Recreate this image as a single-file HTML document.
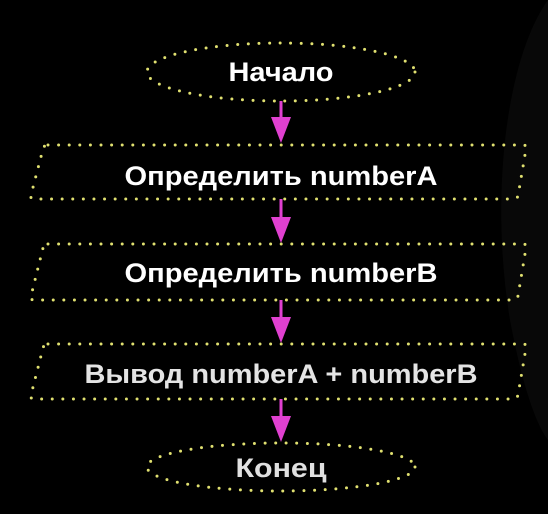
<!DOCTYPE html>
<html><head><meta charset="utf-8"><style>
html,body{margin:0;padding:0;background:#000;}
svg{display:block;}
text{font-family:"Liberation Sans",sans-serif;font-weight:bold;font-size:27px;text-anchor:middle;}
</style></head><body>
<svg width="548" height="514" viewBox="0 0 548 514" xmlns="http://www.w3.org/2000/svg">
<rect width="548" height="514" fill="#000"/>
<path d="M548 0 C505 60 490 200 510 320 C525 400 540 430 548 440 Z" fill="#080808"/>
<g fill="none" stroke="#e0e070" stroke-width="3" stroke-linecap="round" stroke-dasharray="0 10.6">
<ellipse cx="281" cy="72" rx="134" ry="29"/>
<path d="M48 145 L523 145 Q527 145 526 149 L518 196 Q517 199 513 199 L34 199 Q30 199 31 195 L43 149 Q44 145 48 145 Z"/>
<path d="M48 244 L523 244 Q527 244 526 248 L518 296 Q517 300 513 300 L34 300 Q30 300 31 296 L43 248 Q44 244 48 244 Z"/>
<path d="M48 344 L523 344 Q527 344 526 348 L518 395 Q517 399 513 399 L34 399 Q30 399 31 395 L43 348 Q44 344 48 344 Z"/>
<ellipse cx="281" cy="467" rx="134" ry="24"/>
</g>
<g fill="#e040d0" stroke="none">
<rect x="279.5" y="101" width="3" height="18"/><polygon points="271,117 291,117 281,143"/>
<rect x="279.5" y="199" width="3" height="20"/><polygon points="271,217 291,217 281,243"/>
<rect x="279.5" y="300" width="3" height="19"/><polygon points="271,317 291,317 281,343"/>
<rect x="279.5" y="399" width="3" height="19"/><polygon points="271,416 291,416 281,442"/>
</g>
<text x="281" y="81" fill="#fff" textLength="105" lengthAdjust="spacingAndGlyphs">Начало</text>
<text x="281" y="185" fill="#fff" textLength="313" lengthAdjust="spacingAndGlyphs">Определить numberA</text>
<text x="281" y="282" fill="#fff" textLength="313" lengthAdjust="spacingAndGlyphs">Определить numberB</text>
<text x="281" y="383" fill="#e4e4e4" textLength="393" lengthAdjust="spacingAndGlyphs">Вывод numberA + numberB</text>
<text x="281" y="477" fill="#e0e0e0" textLength="91" lengthAdjust="spacingAndGlyphs">Конец</text>
</svg>
</body></html>
